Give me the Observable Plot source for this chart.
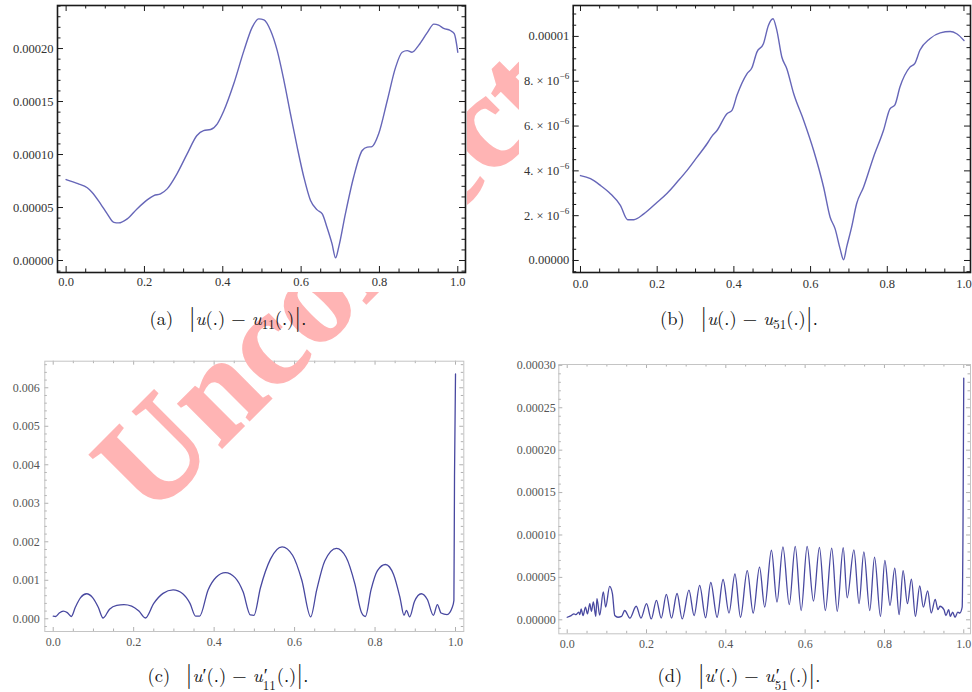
<!DOCTYPE html>
<html><head><meta charset="utf-8">
<script src="https://cdn.jsdelivr.net/npm/d3@7"></script>
<script src="https://cdn.jsdelivr.net/npm/@observablehq/plot@0.6"></script>
<style>
html,body{margin:0;padding:0;background:#fff;}
#page{position:relative;width:972px;height:692px;overflow:hidden;background:#fff;}
.panel{position:absolute;}
.panel svg{display:block;overflow:visible;}
.cap{position:absolute;text-align:center;font-family:"Latin Modern Roman","Liberation Serif",serif;font-size:18.5px;color:#111;white-space:nowrap;line-height:24px;height:24px;z-index:3;}
.cap i{font-style:italic;}
.cap .bar{font-size:25px;vertical-align:-1px;}
.cap sub{font-size:13px;vertical-align:-4px;line-height:0;}
.ps{position:relative;display:inline-block;width:14px;height:13px;}
.ps .pr{position:absolute;left:1px;top:-5px;font-size:18.5px;line-height:20px;}
.ps .sb{position:absolute;left:0;top:9px;font-size:13px;line-height:13px;}
#wm{position:absolute;left:0;top:0;z-index:1;pointer-events:none;}
</style></head>
<body>
<div id="page">
  <div id="pc" class="panel" style="left:0;top:340px;z-index:0"></div>
  <div id="pd" class="panel" style="left:490px;top:340px;z-index:0"></div>
  <svg id="wm" width="972" height="692"><text x="150" y="520" transform="rotate(-45 150 520)" style="font-family:'Liberation Serif','Times New Roman',serif;font-weight:bold;font-size:136px" fill="#ffb4b4" stroke="#ffb4b4" stroke-width="1.5">Uncorrected Proof</text></svg>
  <div id="pa" class="panel" style="left:0;top:0;z-index:2;background:#fff"></div>
  <div id="pb" class="panel" style="left:519px;top:0;z-index:2;background:#fff"></div>
  <div class="cap" style="left:78px;width:300px;top:304px">(a)&nbsp; <span class="bar">|</span><i>u</i>(.) − <i>u</i><sub>11</sub>(.)<span class="bar">|</span>.</div>
  <div class="cap" style="left:589px;width:300px;top:304px">(b)&nbsp; <span class="bar">|</span><i>u</i>(.) − <i>u</i><sub>51</sub>(.)<span class="bar">|</span>.</div>
  <div class="cap" style="left:78px;width:300px;top:661px">(c)&nbsp; <span class="bar">|</span><i>u</i>′(.) − <i>u</i><span class="ps"><span class="pr">′</span><span class="sb">11</span></span>(.)<span class="bar">|</span>.</div>
  <div class="cap" style="left:589px;width:300px;top:661px">(d)&nbsp; <span class="bar">|</span><i>u</i>′(.) − <i>u</i><span class="ps"><span class="pr">′</span><span class="sb">51</span></span>(.)<span class="bar">|</span>.</div>
</div>
<script>
// ---------- data ----------
// (a) |u - u11|, y in units of 1e-5
const aX = [0,0.03,0.054,0.066,0.088,0.105,0.122,0.134,0.156,0.181,0.207,0.224,0.241,0.258,0.283,0.309,0.334,0.351,0.369,0.386,0.403,0.428,0.454,0.475,0.492,0.505,0.522,0.539,0.556,0.573,0.59,0.607,0.624,0.641,0.654,0.666,0.679,0.688,0.696,0.713,0.734,0.756,0.769,0.781,0.798,0.82,0.841,0.858,0.871,0.883,0.9,0.922,0.939,0.951,0.964,0.981,0.991,1.0];
const aY = [7.64,7.25,6.86,6.45,5.35,4.4,3.6,3.55,3.93,4.87,5.72,6.13,6.29,6.76,8.18,10.06,11.8,12.26,12.36,12.9,14.15,16.67,19.8,22.0,22.8,22.7,21.7,19.8,17.0,13.8,10.7,7.86,5.66,4.78,4.4,3.14,1.57,0.25,1.26,4.4,7.86,10.38,10.7,10.75,11.95,15.1,18.2,19.65,19.8,19.65,20.3,21.5,22.3,22.2,21.9,21.7,21.4,19.65];
const aUnit = 1e-5;
// (b) |u - u51|, y in units of 1e-6
const bX = [0,0.026,0.052,0.078,0.104,0.123,0.139,0.165,0.2,0.226,0.252,0.278,0.304,0.33,0.343,0.356,0.382,0.395,0.408,0.434,0.447,0.46,0.477,0.49,0.502,0.512,0.525,0.538,0.556,0.582,0.608,0.634,0.651,0.664,0.677,0.686,0.694,0.707,0.72,0.738,0.764,0.79,0.807,0.82,0.833,0.859,0.872,0.885,0.911,0.938,0.964,0.981,1.0];
const bY = [3.79,3.65,3.35,2.98,2.46,1.82,1.82,2.08,2.6,3.0,3.5,4.02,4.61,5.21,5.55,5.8,6.55,6.7,7.37,8.33,8.6,9.3,9.67,10.49,10.79,10.27,9.08,8.56,7.44,6.25,4.91,3.27,1.93,1.41,0.52,0.03,0.6,1.49,2.53,3.27,4.61,5.8,6.77,6.95,7.74,8.63,8.8,9.38,9.9,10.16,10.22,10.12,9.82];
const bUnit = 1e-6;
// (c) |u' - u'11|, y in units of 1e-3
const cX = [0,0.006,0.015,0.025,0.035,0.045,0.055,0.068,0.083,0.098,0.112,0.124,0.14,0.158,0.176,0.195,0.213,0.229,0.25,0.273,0.298,0.322,0.34,0.354,0.364,0.385,0.405,0.428,0.452,0.472,0.49,0.499,0.515,0.54,0.569,0.595,0.618,0.64,0.655,0.675,0.704,0.728,0.75,0.766,0.776,0.79,0.806,0.826,0.846,0.862,0.872,0.878,0.886,0.898,0.915,0.93,0.945,0.955,0.964,0.979,0.992,0.996,0.9975,1.0];
const cY = [0.07,0.06,0.15,0.2,0.16,0.06,0.3,0.55,0.65,0.55,0.3,0.02,0.25,0.35,0.37,0.33,0.2,0.02,0.4,0.66,0.75,0.65,0.4,0.07,0.07,0.75,1.08,1.2,1.07,0.7,0.1,0.09,0.8,1.55,1.87,1.65,1.0,0.05,0.75,1.5,1.83,1.6,0.9,0.17,0.06,0.75,1.25,1.41,1.15,0.55,0.09,0.22,0.05,0.45,0.65,0.5,0.09,0.37,0.15,0.11,0.3,0.48,3.68,6.36];
const cUnit = 1e-3;
// (d) |u' - u'51|, y in units of 1e-5
const dX = [0,0.01,0.017,0.022,0.029,0.032,0.035,0.04,0.046,0.051,0.057,0.061,0.066,0.072,0.075,0.082,0.091,0.097,0.107,0.114,0.12,0.128,0.137,0.145,0.158,0.174,0.186,0.2,0.212,0.225,0.237,0.25,0.263,0.277,0.29,0.307,0.32,0.334,0.349,0.362,0.378,0.393,0.408,0.423,0.437,0.454,0.469,0.485,0.498,0.515,0.529,0.544,0.56,0.575,0.59,0.605,0.621,0.636,0.651,0.667,0.681,0.696,0.706,0.723,0.736,0.748,0.763,0.775,0.79,0.801,0.814,0.826,0.837,0.847,0.858,0.868,0.878,0.889,0.898,0.909,0.918,0.928,0.935,0.94,0.95,0.955,0.962,0.966,0.972,0.978,0.985,0.99,0.996,0.998,1.0];
const dY = [0.3,0.5,0.7,0.6,0.9,0.6,1.3,0.5,1.5,0.7,1.9,1.0,2.1,0.4,2.5,0.55,3.3,1.5,3.95,3.1,0.5,0.3,0.4,1.1,0.2,1.6,0.2,1.9,0.1,2.3,0.2,3.0,0.2,3.1,0.1,3.5,0.5,4.05,0.25,4.4,0.3,4.75,0.8,5.4,0.3,5.8,0.8,6.2,1.5,8.2,2.1,8.6,1.8,8.65,1.1,8.65,2.2,8.55,1.1,8.45,1.0,8.5,2.6,8.25,1.9,8.0,1.1,7.4,0.4,7.0,1.7,6.1,0.6,5.8,1.9,4.8,0.4,4.0,1.5,3.4,0.8,2.4,1.2,1.6,1.2,0.5,1.2,0.4,0.9,0.3,0.9,0.8,1.5,10,28.5];
const dUnit = 1e-5;

// tick labels
const xTicks = [0, 0.2, 0.4, 0.6, 0.8, 1.0];
const aYTicks = [0, 5e-5, 10e-5, 15e-5, 20e-5];
const aYLabels = ["0.00000","0.00005","0.00010","0.00015","0.00020"];
const bYTicks = [0, 2e-6, 4e-6, 6e-6, 8e-6, 10e-6];
const bYLabels = ["0.00000","2. × 10","4. × 10","6. × 10","8. × 10","0.00001"];
const bYExponents = ["","−6","−6","−6","−6",""];
const cYTicks = [0, 0.001, 0.002, 0.003, 0.004, 0.005, 0.006];
const cYLabels = ["0.000","0.001","0.002","0.003","0.004","0.005","0.006"];
const dYTicks = [0, 5e-5, 10e-5, 15e-5, 20e-5, 25e-5, 30e-5];
const dYLabels = ["0.00000","0.00005","0.00010","0.00015","0.00020","0.00025","0.00030"];

function table(xs, ys, unit) { return xs.map((x, i) => ({x, y: ys[i] * unit})); }
function minors(step, lo, hi, majors) {
  return d3.range(lo, hi + 1).map(i => i * step).filter(v => !majors.some(m => Math.abs(m - v) < step * 1e-3));
}

const FONT = "'Liberation Serif', 'Times New Roman', serif";

function panel(o) {
  const pw = o.width - o.ml - o.mr, ph = o.height - o.mt - o.mb;
  const xMinor = minors(0.05, 0, 20, o.xTicks);
  const st = {stroke: o.tickColor, strokeWidth: o.tickWidth};
  const tk = (vals, len, isX, side) => isX
    ? Plot.ruleX(vals, side === "bottom" ? {...st, insetTop: ph - len} : {...st, insetBottom: ph - len})
    : Plot.ruleY(vals, side === "left" ? {...st, insetRight: pw - len} : {...st, insetLeft: pw - len});
  const labels = o.yTicks.map((v, i) => ({v, t: o.yLabels[i], e: o.yExp ? o.yExp[i] : ""}));
  const plain = labels.filter(d => !d.e), withExp = labels.filter(d => d.e);
  const txt = {fill: o.labelColor, fontSize: o.fontSize, fontFamily: FONT, frameAnchor: "left", textAnchor: "end"};
  const svg = Plot.plot({
    width: o.width, height: o.height,
    marginLeft: o.ml, marginRight: o.mr, marginTop: o.mt, marginBottom: o.mb,
    x: {domain: o.xDomain, axis: null},
    y: {domain: o.yDomain, axis: null},
    style: {fontFamily: FONT, background: "transparent"},
    marks: [
      tk(o.xTicks, o.major, true, "bottom"), tk(o.xTicks, o.major, true, "top"),
      tk(xMinor, o.minor, true, "bottom"), tk(xMinor, o.minor, true, "top"),
      tk(o.yTicks, o.major, false, "left"), tk(o.yTicks, o.major, false, "right"),
      tk(o.yMinor, o.minor, false, "left"), tk(o.yMinor, o.minor, false, "right"),
      Plot.frame({stroke: o.frameColor, strokeWidth: o.frameWidth}),
      Plot.line(o.data, {x: "x", y: "y", stroke: o.lineColor, strokeWidth: o.lineWidth, curve: "monotone-x"}),
      Plot.text(o.xTicks, {x: d => d, frameAnchor: "bottom", lineAnchor: "top", dy: o.xPad, text: d => d.toFixed(1), fill: o.labelColor, fontSize: o.fontSize, fontFamily: FONT}),
      Plot.text(plain, {...txt, y: "v", text: "t", dx: -o.yPad}),
      Plot.text(withExp, {...txt, y: "v", text: "t", dx: -o.yPad - 10}),
      Plot.text(withExp, {...txt, y: "v", text: "e", dx: -o.yPad, dy: -5, fontSize: o.fontSize * 0.72})
    ]
  });
  svg.style.fontFamily = FONT;
  return svg;
}

const strong = {frameColor: "#1a1a1a", frameWidth: 1.6, tickColor: "#1a1a1a", tickWidth: 1, major: 6, minor: 3.5,
  lineColor: "#6666b8", lineWidth: 1.4, labelColor: "#333", fontSize: 12.5};
const light = {frameColor: "#c4c4c4", frameWidth: 1, tickColor: "#b0b0b0", tickWidth: 1, major: 4, minor: 2.5,
  lineColor: "#4848a0", lineWidth: 1.3, labelColor: "#555", fontSize: 12};

document.getElementById("pa").append(panel({...strong,
  width: 467, height: 292, ml: 57, mr: 2, mt: 5, mb: 20,
  xDomain: [-0.022, 1.0197], yDomain: [-1.13e-5, 24.06e-5],
  xTicks, yTicks: aYTicks, yLabels: aYLabels, yMinor: minors(1e-5, -1, 24, aYTicks),
  data: table(aX, aY, aUnit), xPad: 5, yPad: 4}));

document.getElementById("pb").append(panel({...strong,
  width: 453, height: 300, ml: 53.7, mr: 2, mt: 5, mb: 28,
  xDomain: [-0.019, 1.017], yDomain: [-0.536e-6, 11.38e-6],
  xTicks, yTicks: bYTicks, yLabels: bYLabels, yExp: bYExponents, yMinor: minors(0.5e-6, -1, 22, bYTicks),
  data: table(bX, bY, bUnit), xPad: 7, yPad: 4}));

document.getElementById("pc").append(panel({...light,
  width: 470, height: 320, ml: 44.3, mr: 6.7, mt: 20.7, mb: 29,
  xDomain: [-0.0209, 1.0206], yDomain: [-0.33e-3, 6.69e-3],
  xTicks, yTicks: cYTicks, yLabels: cYLabels, yMinor: minors(0.2e-3, -1, 33, cYTicks),
  data: table(cX, cY, cUnit), xPad: 6, yPad: 5}));

document.getElementById("pd").append(panel({...light,
  width: 482, height: 320, ml: 68.3, mr: 2, mt: 24, mb: 26.7,
  xDomain: [-0.0212, 1.017], yDomain: [-1.65e-5, 30.1e-5],
  xTicks, yTicks: dYTicks, yLabels: dYLabels, yMinor: minors(1e-5, -1, 30, dYTicks),
  data: table(dX, dY, dUnit), xPad: 6, yPad: 3}));
</script>
</body></html>
